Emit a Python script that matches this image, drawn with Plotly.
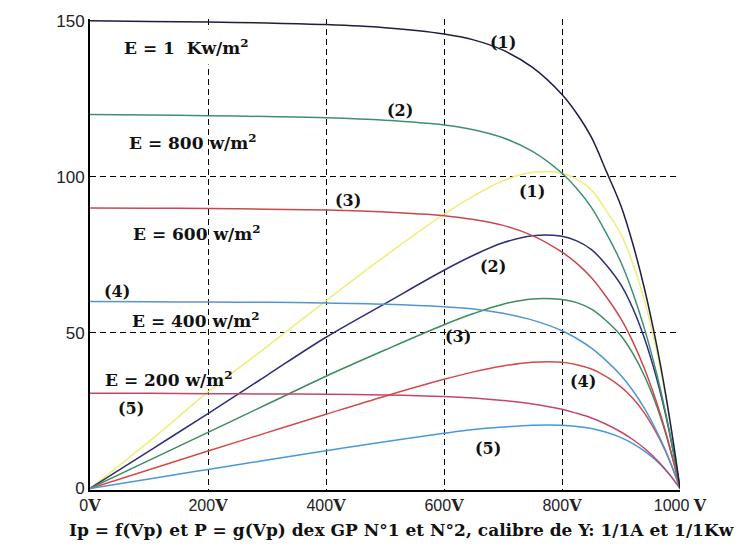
import plotly.graph_objects as go

# Photovoltaic array: current Ip and power P versus panel voltage Vp
# for five irradiance levels (1 kW/m2 down to 200 W/m2).
voltage = [0, 100, 200, 300, 400, 500, 600, 650, 700, 750, 800,
           825, 850, 875, 900, 920, 940, 960, 975, 990, 1000]

current_1 = [150, 149.8, 149.6, 149.3, 148.8, 147.8, 145.8, 143.9, 140.6, 135.1, 126.4,
             120.3, 112.6, 101.8, 90.6, 78.5, 63.9, 46.4, 31.0, 13.2, 0]
current_2 = [120, 119.8, 119.6, 119.3, 118.9, 118.1, 116.6, 115.1, 112.5, 108.1, 101.1,
             96.2, 90.1, 81.9, 72.5, 62.8, 51.1, 37.1, 24.8, 10.6, 0]
current_3 = [90, 89.9, 89.8, 89.6, 89.3, 88.7, 87.5, 86.3, 84.4, 81.1, 75.8,
             72.2, 67.6, 61.5, 54.4, 47.1, 38.3, 27.8, 18.6, 7.9, 0]
current_4 = [60, 59.9, 59.8, 59.7, 59.5, 59.1, 58.3, 57.6, 56.2, 54.0, 50.6,
             48.1, 45.0, 41.0, 36.2, 31.4, 25.6, 18.5, 12.4, 5.3, 0]
current_5 = [30.5, 30.5, 30.4, 30.3, 30.2, 30.0, 29.5, 29.0, 28.2, 27.1, 25.4,
             24.1, 22.6, 20.6, 18.1, 15.7, 12.8, 9.3, 6.2, 2.6, 0]

power_1 = [0, 15.0, 31.0, 45.5, 60.2, 74.5, 88.0, 93.8, 98.7, 101.4, 101.1,
           99.2, 95.7, 89.1, 81.5, 72.2, 60.1, 44.5, 30.2, 13.1, 0]
power_2 = [0, 12.0, 24.0, 36.3, 48.5, 59.3, 70.0, 74.8, 78.8, 81.1, 80.9,
           79.4, 76.6, 71.7, 65.3, 57.8, 48.0, 35.6, 24.2, 10.5, 0]
power_3 = [0, 9.0, 18.0, 27.0, 36.0, 44.4, 52.5, 56.1, 59.1, 60.8, 60.6,
           59.6, 57.5, 53.8, 49.0, 43.3, 36.0, 26.7, 18.1, 7.8, 0]
power_4 = [0, 6.0, 12.0, 17.9, 23.8, 29.6, 35.0, 37.4, 39.3, 40.5, 40.5,
           39.7, 38.3, 35.9, 32.6, 28.9, 24.1, 17.8, 12.1, 5.2, 0]
power_5 = [0, 3.05, 6.1, 9.1, 12.1, 15.0, 17.7, 18.9, 19.7, 20.3, 20.3,
           19.9, 19.2, 18.0, 16.3, 14.4, 12.0, 8.9, 6.0, 2.6, 0]

x_tick_vals = [0, 200, 400, 600, 800, 1000]
x_tick_nums = ["0", "200", "400", "600", "800", "1000 "]
y_tick_vals = [0, 50, 100, 150]
y_tick_text = ["0", "50", "100", "150"]
x_grid_vals = [200, 400, 600, 800]
y_grid_vals = [50, 100]

# Irradiance labels and curve numbers, placed in data coordinates
label_text = ["E = 1  Kw/m<sup>2</sup>", "E = 800 w/m<sup>2</sup>",
              "E = 600 w/m<sup>2</sup>", "E = 400 w/m<sup>2</sup>",
              "E = 200 w/m<sup>2</sup>",
              "(1)", "(2)", "(1)", "(3)", "(2)", "(4)", "(3)", "(5)", "(4)", "(5)"]
label_v = [163, 175, 181, 180, 134,
           700, 525, 749, 437, 683, 46, 623, 69, 836, 675]
label_i = [141.5, 111.2, 82.0, 54.0, 35.0,
           143.0, 121.4, 95.3, 92.5, 71.2, 63.2, 48.6, 25.7, 34.3, 12.7]

caption = "Ip = f(Vp) et P = g(Vp) dex GP N°1 et N°2, calibre de Y: 1/1A et 1/1Kw"

series = [
    (power_1, "#eeee78"),
    (power_2, "#2e2e78"),
    (power_3, "#3c8c5c"),
    (power_4, "#d44a4a"),
    (power_5, "#4a98d8"),
    (current_5, "#c24868"),
    (current_4, "#4f97d0"),
    (current_3, "#c8484e"),
    (current_2, "#3f8f74"),
    (current_1, "#1e1e40"),
]

fig = go.Figure()
for values, color in series:
    fig.add_trace(go.Scatter(
        x=voltage, y=values, mode="lines",
        line=dict(color=color, width=1.5, shape="spline", smoothing=1.0),
        showlegend=False, hoverinfo="skip"))

# empty trace on the overlay axes that carry the dashed grid
fig.add_trace(go.Scatter(x=[None], y=[None], xaxis="x2", yaxis="y2",
                         mode="lines", showlegend=False, hoverinfo="skip"))

serif = "DejaVu Serif"
narrow = "Liberation Sans Narrow, Liberation Sans, Arial"

x_tick_text = [n + "<span style='font-family:DejaVu Serif;font-weight:bold'>V</span>"
               for n in x_tick_nums]

annotations = []
for txt, v, i in zip(label_text, label_v, label_i):
    is_e = txt.startswith("E")
    ann = dict(x=v, y=i, xref="x", yref="y", text="<b>" + txt + "</b>",
               showarrow=False,
               font=dict(family=serif, size=17 if is_e else 16, color="#111111"))
    if txt.startswith("E = 1 "):
        ann.update(bgcolor="white", borderpad=6)
    annotations.append(ann)

annotations.append(dict(
    x=0.528, y=-0.085, xref="paper", yref="paper", text="<b>" + caption + "</b>",
    showarrow=False, xanchor="center", yanchor="middle",
    font=dict(family=serif, size=17, color="#111111")))

fig.update_layout(
    width=744, height=550,
    margin=dict(l=90, r=64, t=14, b=60),
    paper_bgcolor="white", plot_bgcolor="white",
    xaxis=dict(range=[0, 1000], tickvals=x_tick_vals, ticktext=x_tick_text,
               showgrid=False, zeroline=False, showline=True, linecolor="black",
               linewidth=2, ticks="", tickfont=dict(family=narrow, size=16, color="#222222")),
    yaxis=dict(range=[-0.5, 150.6], tickvals=y_tick_vals, ticktext=y_tick_text,
               showgrid=False, zeroline=False, showline=True, linecolor="black",
               linewidth=2, ticks="", tickfont=dict(family=narrow, size=17, color="#222222")),
    xaxis2=dict(range=[0, 1000], overlaying="x", anchor="y2", tickvals=x_grid_vals,
                showticklabels=False, showgrid=True, gridcolor="black", gridwidth=1.3,
                griddash="6px,4px", zeroline=False, showline=False, ticks=""),
    yaxis2=dict(range=[-0.5, 150.6], overlaying="y", anchor="x2", tickvals=y_grid_vals,
                showticklabels=False, showgrid=True, gridcolor="black", gridwidth=1.3,
                griddash="6px,4px", zeroline=False, showline=False, ticks=""),
    annotations=annotations,
)

fig.write_html("out.html")
